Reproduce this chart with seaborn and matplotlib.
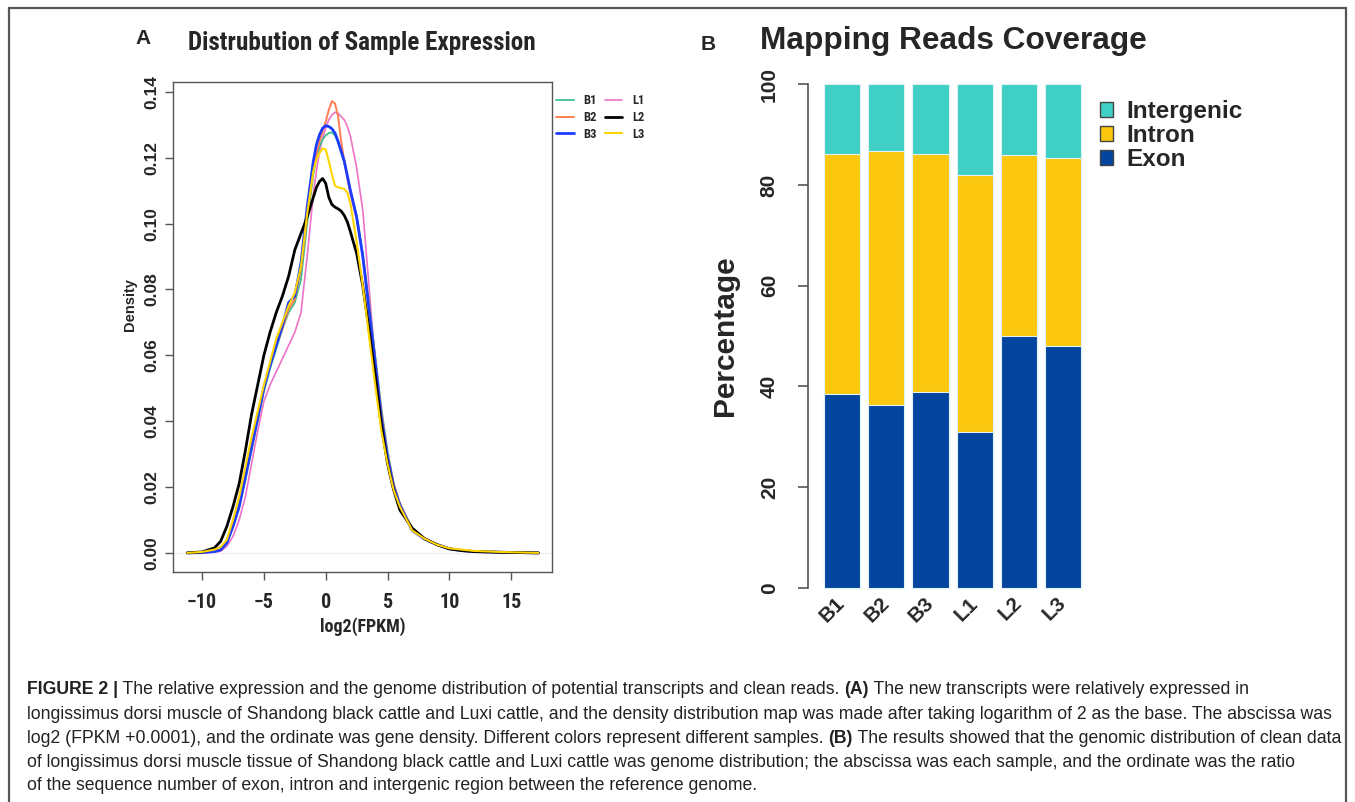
import numpy as np
import pandas as pd
import matplotlib
matplotlib.use("Agg")
import matplotlib.pyplot as plt
import seaborn as sns
from matplotlib import font_manager
from matplotlib.font_manager import FontProperties
from matplotlib.lines import Line2D
from matplotlib.patches import Patch

# ---------------- data ----------------
log2_fpkm = [-11.2, -10, -9, -8.5, -8, -7.5, -7, -6.5, -6, -5.5, -5, -4.5, -4, -3.5, -3, -2.5,
             -2, -1.5, -1, -0.75, -0.5, -0.25, 0, 0.25, 0.5, 0.75, 1, 1.25, 1.5, 1.75, 2, 2.5,
             3, 3.5, 4, 4.5, 5, 5.5, 6, 7, 8, 9, 10, 11, 12, 14, 17.2]

dens_B1 = [0, 0.0001, 0.0005, 0.001, 0.0035, 0.008, 0.014, 0.022, 0.031, 0.040, 0.049, 0.056,
           0.062, 0.068, 0.073, 0.076, 0.083, 0.100, 0.115, 0.120, 0.1235, 0.1255, 0.1268, 0.1275,
           0.1277, 0.1268, 0.1245, 0.1215, 0.1185, 0.1145, 0.110, 0.1025, 0.091, 0.076, 0.060,
           0.044, 0.031, 0.021, 0.015, 0.0072, 0.0043, 0.0026, 0.0014, 0.0008, 0.0004, 0.0002, 0]
dens_B2 = [0, 0.0001, 0.0005, 0.001, 0.0035, 0.0085, 0.0145, 0.023, 0.032, 0.041, 0.050, 0.057,
           0.063, 0.068, 0.074, 0.077, 0.086, 0.102, 0.1164, 0.121, 0.125, 0.128, 0.131, 0.1345,
           0.1372, 0.1365, 0.1325, 0.125, 0.119, 0.1135, 0.109, 0.1015, 0.090, 0.075, 0.059,
           0.043, 0.030, 0.021, 0.015, 0.0072, 0.0043, 0.0025, 0.0013, 0.0007, 0.0004, 0.0002, 0]
dens_B3 = [0, 0.0001, 0.0004, 0.0009, 0.003, 0.008, 0.014, 0.023, 0.032, 0.041, 0.050, 0.057,
           0.063, 0.069, 0.076, 0.078, 0.088, 0.105, 0.119, 0.124, 0.127, 0.129, 0.1297, 0.1295,
           0.1288, 0.1275, 0.125, 0.122, 0.119, 0.1145, 0.110, 0.102, 0.090, 0.074, 0.058,
           0.041, 0.029, 0.020, 0.0145, 0.0068, 0.0042, 0.0025, 0.0013, 0.0007, 0.0004, 0.0002, 0]
dens_L1 = [0, 0.0, 0.0002, 0.0005, 0.002, 0.005, 0.010, 0.017, 0.027, 0.037, 0.046, 0.051,
           0.055, 0.059, 0.063, 0.067, 0.073, 0.090, 0.109, 0.116, 0.122, 0.126, 0.129, 0.1315,
           0.133, 0.1338, 0.1335, 0.1325, 0.1315, 0.1295, 0.1265, 0.117, 0.104, 0.081, 0.058,
           0.040, 0.028, 0.019, 0.0135, 0.0075, 0.0045, 0.0026, 0.0014, 0.0008, 0.0004, 0.0002, 0]
dens_L2 = [0, 0.0003, 0.0015, 0.0035, 0.008, 0.014, 0.021, 0.031, 0.042, 0.051, 0.060, 0.067,
           0.073, 0.078, 0.084, 0.092, 0.097, 0.102, 0.108, 0.111, 0.1128, 0.1137, 0.1122, 0.108,
           0.1058, 0.1050, 0.1045, 0.1038, 0.1025, 0.1005, 0.0975, 0.091, 0.081, 0.068, 0.054,
           0.039, 0.027, 0.019, 0.013, 0.0075, 0.0043, 0.0025, 0.0012, 0.0007, 0.0004, 0.0002, 0]
dens_L3 = [0, 0.0003, 0.001, 0.0018, 0.004, 0.010, 0.017, 0.026, 0.035, 0.043, 0.051, 0.058,
           0.065, 0.070, 0.075, 0.079, 0.087, 0.103, 0.116, 0.1195, 0.1215, 0.1228, 0.1225, 0.119,
           0.115, 0.1115, 0.111, 0.1108, 0.1105, 0.1095, 0.106, 0.0945, 0.081, 0.066, 0.051,
           0.037, 0.027, 0.019, 0.014, 0.0068, 0.0043, 0.0025, 0.0014, 0.001, 0.0006, 0.0003, 0]

samples = ["B1", "B2", "B3", "L1", "L2", "L3"]
exon_pct = [38.5, 36.4, 38.9, 31.0, 50.0, 48.1]
intron_pct = [47.6, 50.4, 47.3, 51.0, 35.9, 37.3]
intergenic_pct = [13.9, 13.2, 13.8, 18.0, 14.1, 14.6]

xticks_A = [-10, -5, 0, 5, 10, 15]
yticks_A = [0.00, 0.02, 0.04, 0.06, 0.08, 0.10, 0.12, 0.14]
yticks_B = [0, 20, 40, 60, 80, 100]

caption_lines = [
    [("FIGURE 2 |", True), (" The relative expression and the genome distribution of potential transcripts and clean reads. ", False),
     ("(A)", True), (" The new transcripts were relatively expressed in", False)],
    [("longissimus dorsi muscle of Shandong black cattle and Luxi cattle, and the density distribution map was made after taking logarithm of 2 as the base. The abscissa was", False)],
    [("log2 (FPKM +0.0001), and the ordinate was gene density. Different colors represent different samples. ", False),
     ("(B)", True), (" The results showed that the genomic distribution of clean data", False)],
    [("of longissimus dorsi muscle tissue of Shandong black cattle and Luxi cattle was genome distribution; the abscissa was each sample, and the ordinate was the ratio", False)],
    [("of the sequence number of exon, intron and intergenic region between the reference genome.", False)],
]

# ---------------- style ----------------
sns.set_theme(style="white")
REG = "Liberation Sans"
plt.rcParams["font.family"] = [REG, "DejaVu Sans"]


def find_condensed_bold():
    ranked = []
    for f in font_manager.fontManager.ttflist:
        nm = f.name.lower()
        path = f.fname.lower()
        st = str(f.stretch).lower()
        cond = ("narrow" in nm or "condensed" in nm or "condensed" in st or "narrow" in path
                or "condensed" in path)
        if not cond:
            continue
        if "italic" in path or "oblique" in path or str(f.style).lower() != "normal":
            continue
        w = f.weight
        try:
            wv = int(w)
        except Exception:
            wv = 700 if "bold" in str(w).lower() else 400
        bold = wv >= 600 or "bold" in path
        score = 0
        if bold:
            score += 10
        if "liberation" in path:
            score += 5
        elif "roboto" in path:
            score += 4
        elif "dejavu" in path:
            score += 2
        if "extra" in path or "black" in path or "semi" in path:
            score -= 3
        ranked.append((score, f.fname, bold))
    if ranked:
        ranked.sort(key=lambda r: -r[0])
        return ranked[0][1], ranked[0][2]
    return None, False


cond_path, cond_bold = find_condensed_bold()


def narrow_fp(size):
    if cond_path:
        fp = FontProperties(fname=cond_path, size=size)
        if not cond_bold:
            fp.set_weight("bold")
        return fp
    return FontProperties(family=REG, weight="bold", size=size)


W, H = 1355, 802
fig = plt.figure(figsize=(W / 100, H / 100), dpi=100)
fig.patch.set_facecolor("white")
renderer = fig.canvas.get_renderer()


def fx(px):
    return px / W


def fy(py):
    return 1 - py / H


def fit_width(t, target):
    w = t.get_window_extent(renderer).width
    if w > 0:
        t.set_fontsize(t.get_fontsize() * target / w)


# ---------------- panel A ----------------
axA = fig.add_axes([fx(173), fy(572), (552 - 173) / W, (572 - 82) / H])
dens = {"B1": dens_B1, "B2": dens_B2, "B3": dens_B3, "L1": dens_L1, "L2": dens_L2, "L3": dens_L3}
colors = {"B1": "#3CC08F", "B2": "#FF7F50", "B3": "#1E3CFF", "L1": "#EE72C8", "L2": "#000000", "L3": "#FFD500"}
widths = {"B1": 1.3, "B2": 1.4, "B3": 2.0, "L1": 1.2, "L2": 2.0, "L3": 1.5}
axA.axhline(0, color="#eeeeee", lw=1, zorder=0)
for s in ["L1", "B1", "B2", "B3", "L2", "L3"]:
    df = pd.DataFrame({"x": log2_fpkm, "y": dens[s]})
    sns.lineplot(data=df, x="x", y="y", ax=axA, color=colors[s], lw=widths[s],
                 estimator=None, sort=False, legend=False)
axA.set_xlim(-12.35, 18.3)
axA.set_ylim(-0.0058, 0.143)
axA.set_xticks(xticks_A)
axA.set_xticklabels([f"{v}".replace("-", "\u2212") for v in xticks_A])
for lab in axA.get_xticklabels():
    lab.set_fontproperties(narrow_fp(14.5))
axA.set_yticks(yticks_A)
axA.set_yticklabels([f"{v:.2f}" for v in yticks_A], rotation=90, va="center",
                    fontweight="bold", fontsize=12.5)
for sp in axA.spines.values():
    sp.set_color("#555555")
    sp.set_linewidth(1.0)
axA.tick_params(axis="both", which="both", direction="out", length=6, width=1,
                color="#555555", left=True, bottom=True)
axA.tick_params(axis="x", pad=9)
axA.tick_params(axis="y", pad=4)
axA.set_xlabel("log2(FPKM)", fontproperties=narrow_fp(15))
axA.xaxis.set_label_coords(0.50, -0.092)
fit_width(axA.xaxis.label, 86)
axA.set_ylabel("Density", fontweight="bold", fontsize=10.5)
axA.yaxis.set_label_coords(-0.095, 0.545)

legA_handles = [Line2D([0], [0], color=colors[s], lw=widths[s]) for s in samples]
fig.legend(legA_handles, samples, ncol=2, loc="upper left",
           bbox_to_anchor=(fx(545), fy(83)), frameon=False,
           prop=narrow_fp(9), handlelength=1.4, handletextpad=0.8,
           columnspacing=0.6, labelspacing=0.3)

fig.text(fx(143), fy(38), "A", ha="center", va="center", fontweight="bold", fontsize=15)
tA = fig.text(fx(362), fy(43), "Distrubution of Sample Expression", ha="center", va="center",
              fontproperties=narrow_fp(19))
fit_width(tA, 348)

# ---------------- panel B ----------------
axB = fig.add_axes([fx(808), fy(608), (1090 - 808) / W, (608 - 64) / H])
c_inter, c_intron, c_exon = "#40CFC4", "#FCC70F", "#03449E"
top_all = [e + i + g for e, i, g in zip(exon_pct, intron_pct, intergenic_pct)]
top_intron = [e + i for e, i in zip(exon_pct, intron_pct)]
for vals, col in [(top_all, c_inter), (top_intron, c_intron), (exon_pct, c_exon)]:
    sns.barplot(x=samples, y=vals, ax=axB, color=col, width=0.82, saturation=1,
                edgecolor="#dff3f7", linewidth=0.8)
axB.set_xlim(-0.77, 5.61)
axB.set_ylim(-4, 104)
for k in ["top", "right", "bottom"]:
    axB.spines[k].set_visible(False)
axB.spines["left"].set_bounds(0, 100)
axB.spines["left"].set_color("#555555")
axB.spines["left"].set_linewidth(1.2)
axB.set_yticks(yticks_B)
axB.set_yticklabels([str(v) for v in yticks_B], rotation=90, va="center",
                    fontweight="bold", fontsize=15)
axB.tick_params(axis="y", direction="out", length=7, width=1.2, color="#555555", left=True, pad=14)
axB.tick_params(axis="x", length=0, pad=-5.5)
axB.set_xticks(range(len(samples)))
axB.set_xticklabels(samples, rotation=45, ha="right", va="center", rotation_mode="anchor",
                    fontweight="bold", fontsize=15)
axB.set_xlabel("")
axB.set_ylabel("Percentage", fontweight="bold", fontsize=21.5)
axB.yaxis.set_label_coords(-0.245, 0.5)

legB_handles = [Patch(facecolor=c, edgecolor="#444444", linewidth=1) for c in (c_inter, c_intron, c_exon)]
fig.legend(legB_handles, ["Intergenic", "Intron", "Exon"], loc="upper left",
           bbox_to_anchor=(fx(1078), fy(78)), frameon=False,
           prop={"weight": "bold", "size": 17.5},
           handlelength=0.55, handleheight=0.55, handletextpad=0.55, labelspacing=0.04)

fig.text(fx(708), fy(45), "B", ha="center", va="center", fontweight="bold", fontsize=15)
tB = fig.text(fx(953), fy(41), "Mapping Reads Coverage", ha="center", va="center",
              fontweight="bold", fontsize=22)
fit_width(tB, 387)

# ---------------- caption ----------------
probe = fig.text(0, 0, "".join(p for p, _ in caption_lines[1]), fontsize=11, fontfamily=REG)
w11 = probe.get_window_extent(renderer).width
probe.remove()
cap_size = 11 * (1330 - 27) / w11
baselines = [694, 719, 743, 767, 790]
for parts, base in zip(caption_lines, baselines):
    x = 27
    for txt, bold in parts:
        t = fig.text(fx(x), fy(base), txt, fontsize=cap_size, fontfamily=REG,
                     fontweight="bold" if bold else "normal", va="baseline", ha="left",
                     color="#222222")
        x += t.get_window_extent(renderer).width

# ---------------- outer frame ----------------
frame_kw = dict(color="#555555", lw=1.6, transform=fig.transFigure)
fig.add_artist(Line2D([fx(9), fx(9)], [fy(8), 0], **frame_kw))
fig.add_artist(Line2D([fx(9), fx(1346)], [fy(8), fy(8)], **frame_kw))
fig.add_artist(Line2D([fx(1346), fx(1346)], [fy(8), 0], **frame_kw))

fig.savefig("out.png", dpi=100, facecolor="white")
